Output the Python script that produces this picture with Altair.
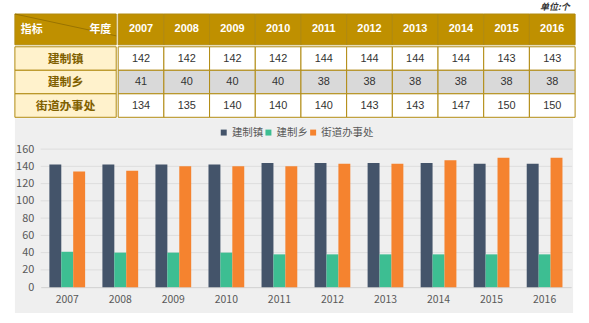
import altair as alt
import pandas as pd

# ---- data ----
years = ["2007", "2008", "2009", "2010", "2011", "2012", "2013", "2014", "2015", "2016"]
series = ["建制镇", "建制乡", "街道办事处"]
town_vals = [142, 142, 142, 142, 144, 144, 144, 144, 143, 143]
township_vals = [41, 40, 40, 40, 38, 38, 38, 38, 38, 38]
street_vals = [134, 135, 140, 140, 140, 143, 143, 147, 150, 150]
grid_vals = [20, 40, 60, 80, 100, 120, 140, 160]
y_ticks = [0, 20, 40, 60, 80, 100, 120, 140, 160]
unit_text = "单位:个"
corner_left = "指标"
corner_right = "年度"

# ---- styles ----
FONT = "Noto Sans CJK SC"
NUMFONT = "Liberation Sans"
GOLD = "#BF9000"
BORDER = "#B08A10"
CREAM = "#FFF2CC"
GRAYCELL = "#D9D9D9"
BROWN = "#7F6000"
BG = "#EFEFEF"
COLORS = ["#44546A", "#3DBE92", "#F5832F"]

rows = []
for s, vals in zip(series, [town_vals, township_vals, street_vals]):
    for y, v in zip(years, vals):
        rows.append({"year": y, "series": s, "value": v})
long = pd.DataFrame(rows)

band0 = alt.Scale(paddingInner=0, paddingOuter=0)

# ---- table: corner cell ----
corner_df = pd.DataFrame({"c": [corner_left], "l": [corner_left], "r": [corner_right]})
corner_base = alt.Chart(corner_df)
corner = alt.layer(
    corner_base.mark_rect(fill=GOLD, stroke=BORDER, strokeWidth=1).encode(
        x=alt.X("c:N", axis=None, scale=band0)
    ),
    corner_base.mark_rule(color="#8F6B00", strokeWidth=0.8).encode(
        x=alt.value(0), y=alt.value(0), x2=alt.value(102), y2=alt.value(22)
    ),
    corner_base.mark_text(align="left", baseline="middle", color="white",
                          fontWeight="bold", fontSize=11, font=FONT).encode(
        x=alt.value(6), y=alt.value(16), text="l:N"
    ),
    corner_base.mark_text(align="right", baseline="middle", color="white",
                          fontWeight="bold", fontSize=11, font=FONT).encode(
        x=alt.value(97), y=alt.value(16), text="r:N"
    ),
).properties(width=102, height=31)

# ---- table: header of years ----
year_df = pd.DataFrame({"year": years})
hbase = alt.Chart(year_df).encode(x=alt.X("year:N", axis=None, sort=years, scale=band0))
header = alt.layer(
    hbase.mark_rect(fill=GOLD, stroke=BORDER, strokeWidth=1),
    hbase.mark_text(color="white", fontWeight="bold", fontSize=11, font=NUMFONT,
                    baseline="middle").encode(text="year:N"),
).properties(width=460, height=31)

# ---- table: row labels ----
ser_df = pd.DataFrame({"series": series})
rbase = alt.Chart(ser_df).encode(y=alt.Y("series:N", axis=None, sort=series, scale=band0))
rowlab = alt.layer(
    rbase.mark_rect(fill=CREAM, stroke=BORDER, strokeWidth=1),
    rbase.mark_text(color=BROWN, fontWeight="bold", fontSize=12, font=FONT,
                    baseline="middle").encode(text="series:N"),
).properties(width=102, height=71)

# ---- table: body ----
bbase = alt.Chart(long).encode(
    x=alt.X("year:N", axis=None, sort=years, scale=band0),
    y=alt.Y("series:N", axis=None, sort=series, scale=band0),
)
body = alt.layer(
    bbase.mark_rect(stroke=BORDER, strokeWidth=1).encode(
        fill=alt.condition(alt.datum.series == series[1], alt.value(GRAYCELL), alt.value("white"))
    ),
    bbase.mark_text(color="#333333", fontSize=11, font=NUMFONT, baseline="middle").encode(
        text="value:Q"
    ),
).properties(width=460, height=71)

table = alt.vconcat(
    alt.hconcat(corner, header, spacing=0),
    alt.hconcat(rowlab, body, spacing=0),
    spacing=0,
)

# ---- bar chart ----
yscale = alt.Scale(domain=[0, 160], range=[170, 31])
yaxis = alt.Axis(title=None, values=y_ticks, grid=False, domain=False, ticks=False,
                 offset=-26, labelPadding=7, labelColor="#595959",
                 labelFontSize=11, labelFont=FONT)
grid_df = pd.DataFrame({"gv": grid_vals})
grid = alt.Chart(grid_df).mark_rule(color="#DDDDDD", strokeWidth=1).encode(
    y=alt.Y("gv:Q", scale=yscale, axis=yaxis),
    x=alt.value(26), x2=alt.value(561),
)
bars = alt.Chart(long).mark_bar().encode(
    x=alt.X("year:N", sort=years,
            scale=alt.Scale(range=[26, 560], paddingInner=0.326, paddingOuter=0.163),
            axis=alt.Axis(title=None, labelAngle=0, domain=True, domainColor="#D0D0D0",
                          ticks=False, offset=-26, labelPadding=7, labelColor="#595959",
                          labelFontSize=10.5, labelFont=FONT)),
    xOffset=alt.XOffset("series:N", sort=series, scale=alt.Scale(paddingInner=0, paddingOuter=0)),
    y=alt.Y("value:Q", scale=yscale, axis=yaxis),
    color=alt.Color("series:N", sort=series,
                    scale=alt.Scale(domain=series, range=COLORS),
                    legend=alt.Legend(orient="none", legendX=205, legendY=114,
                                      direction="horizontal", title=None,
                                      symbolType="square", symbolSize=36,
                                      symbolStrokeWidth=0, labelFontSize=10.5,
                                      labelColor="#595959", labelFont=FONT,
                                      columnPadding=0, labelOffset=3)),
)
barchart = alt.layer(grid, bars).properties(
    width=562, height=196, view=alt.ViewBackground(fill=BG, stroke=None)
)

chart = alt.vconcat(table, barchart, spacing=0).properties(
    title=alt.TitleParams(text=unit_text, anchor="end", fontSize=9, fontStyle="italic",
                          fontWeight="bold", color="#333333", offset=2, dx=-6, font=FONT),
    padding={"top": 1, "left": 14, "right": 13, "bottom": 10},
).configure(font=FONT).configure_view(stroke=None)

chart.save("out.html", embed_options={"renderer": "svg", "actions": False})
